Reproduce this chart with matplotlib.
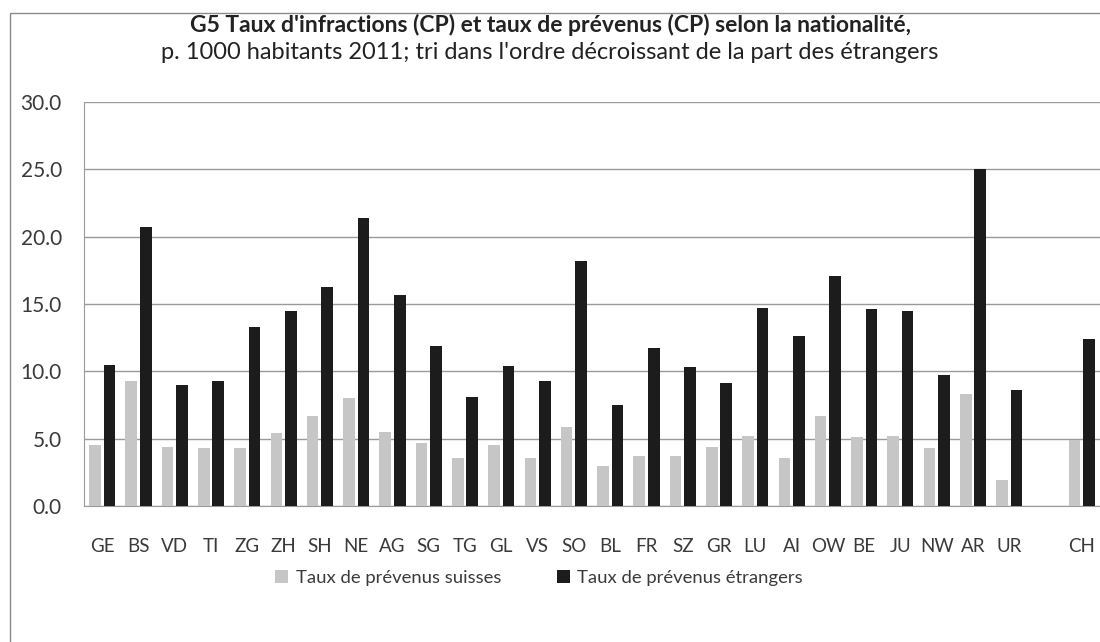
import numpy as np
import matplotlib
matplotlib.use("Agg")
import matplotlib.pyplot as plt
from matplotlib.patches import Rectangle

plt.rcParams["font.family"] = ["Lato", "DejaVu Sans"]

# Data (per 1000 inhabitants, 2011)
cantons = ["GE", "BS", "VD", "TI", "ZG", "ZH", "SH", "NE", "AG", "SG", "TG", "GL", "VS",
           "SO", "BL", "FR", "SZ", "GR", "LU", "AI", "OW", "BE", "JU", "NW", "AR", "UR",
           "", "CH"]
suisses = [4.5, 9.3, 4.4, 4.3, 4.3, 5.4, 6.7, 8.0, 5.5, 4.7, 3.6, 4.5, 3.6,
           5.9, 3.0, 3.7, 3.7, 4.4, 5.2, 3.6, 6.7, 5.1, 5.2, 4.3, 8.3, 1.9,
           np.nan, 4.9]
etrangers = [10.5, 20.7, 9.0, 9.3, 13.3, 14.5, 16.3, 21.4, 15.7, 11.9, 8.1, 10.4, 9.3,
             18.2, 7.5, 11.7, 10.3, 9.1, 14.7, 12.6, 17.1, 14.6, 14.5, 9.7, 25.0, 8.6,
             np.nan, 12.4]
yticks = [0, 5, 10, 15, 20, 25, 30]

label_suisses = "Taux de prévenus suisses"
label_etrangers = "Taux de prévenus étrangers"
title_1 = "G5 Taux d'infractions (CP) et taux de prévenus (CP) selon la nationalité,"
title_2 = "p. 1000 habitants 2011; tri dans l'ordre décroissant de la part des étrangers"

fig = plt.figure(figsize=(11, 6.42), dpi=100)
ax = fig.add_axes([0.0764, 0.2118, 0.9236, 0.6292])

x = np.arange(len(cantons))
w = 0.32
ax.bar(x - 0.2, suisses, width=w, color="#c6c6c6", label=label_suisses, zorder=3)
ax.bar(x + 0.2, etrangers, width=w, color="#1c1c1c", label=label_etrangers, zorder=3)

ax.set_xlim(-0.5, len(cantons) - 0.5)
ax.set_ylim(0, 30)
ax.set_yticks(yticks)
ax.set_yticklabels([f"{v:.1f}" for v in yticks])
ax.set_xticks(x)
ax.set_xticklabels(cantons)
ax.tick_params(axis="both", length=0, colors="#3a3a3a")
ax.tick_params(axis="y", labelsize=15, pad=16)
ax.tick_params(axis="x", labelsize=13.5, pad=23)
ax.yaxis.grid(True, color="#9a9a9a", linewidth=1.0, zorder=0)

for side in ["top", "right"]:
    ax.spines[side].set_visible(False)
ax.spines["left"].set_color("#9a9a9a")
ax.spines["bottom"].set_color("#9a9a9a")

fig.text(0.5, 0.961, title_1, ha="center", va="center", fontsize=16.5, fontweight="bold",
         color="#222222")
fig.text(0.5, 0.919, title_2, ha="center", va="center", fontsize=17, color="#222222")

fig.legend(loc="center", bbox_to_anchor=(0.49, 0.1), ncol=2, frameon=False,
           fontsize=13.3, handlelength=0.7, handleheight=0.7, handletextpad=0.4,
           columnspacing=3.0, labelcolor="#3a3a3a")

# outer chart border
fig.patches.append(Rectangle((10 / 1100, -0.05), 1.2, 1 - 13 / 642 + 0.05,
                             transform=fig.transFigure, fill=False,
                             edgecolor="#8a8a8a", linewidth=1.0))

fig.savefig("out.png", dpi=100)
